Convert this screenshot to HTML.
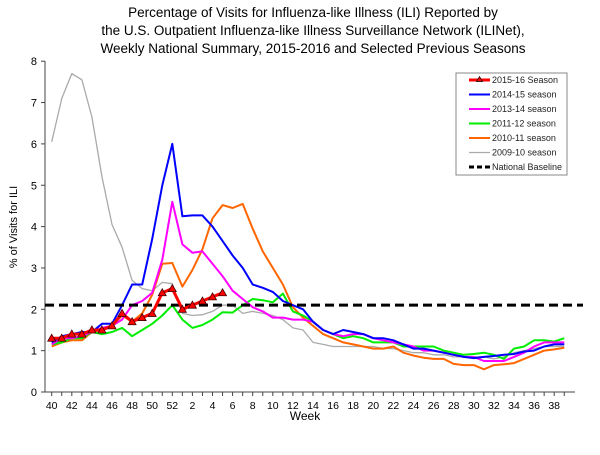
<!DOCTYPE html>
<html><head><meta charset="utf-8"><style>
body{margin:0;background:#fff;width:600px;height:450px;overflow:hidden}
svg{font-family:"Liberation Sans",Arial,sans-serif}
</style></head><body>
<svg id="s" width="600" height="450" xmlns="http://www.w3.org/2000/svg">
<text x="313" y="17" text-anchor="middle" font-size="13.5">Percentage of Visits for Influenza-like Illness (ILI) Reported by</text>
<text x="313" y="35" text-anchor="middle" font-size="13.5">the U.S. Outpatient Influenza-like Illness Surveillance Network (ILINet),</text>
<text x="313" y="53" text-anchor="middle" font-size="13.5">Weekly National Summary, 2015-2016 and Selected Previous Seasons</text>
<text transform="translate(17,227) rotate(-90)" text-anchor="middle" font-size="11">% of Visits for ILI</text>
<text x="305" y="420" text-anchor="middle" font-size="12">Week</text>
<g id="g"></g>
<rect x="456" y="73" width="111" height="102" fill="#fff" stroke="#888" stroke-width="1"/>
<g font-size="9" fill="#222">
<line x1="469" y1="80" x2="490" y2="80" stroke="#f00" stroke-width="3"/><polygon points="479.5,76.5 476.5,81.5 482.5,81.5" fill="#f00" stroke="#000" stroke-width="0.7"/><text x="492" y="83">2015-16 Season</text>
<line x1="469" y1="94.5" x2="490" y2="94.5" stroke="#00f" stroke-width="2"/><text x="492" y="97.5">2014-15 season</text>
<line x1="469" y1="109" x2="490" y2="109" stroke="#f0f" stroke-width="2"/><text x="492" y="112">2013-14 season</text>
<line x1="469" y1="123.5" x2="490" y2="123.5" stroke="#0e0" stroke-width="2"/><text x="492" y="126.5">2011-12 season</text>
<line x1="469" y1="138" x2="490" y2="138" stroke="#f60" stroke-width="2"/><text x="492" y="141">2010-11 season</text>
<line x1="469" y1="152.5" x2="490" y2="152.5" stroke="#aaa" stroke-width="1.3"/><text x="492" y="155.5">2009-10 season</text>
<line x1="469" y1="167" x2="490" y2="167" stroke="#000" stroke-width="3" stroke-dasharray="5,3"/><text x="492" y="170">National Baseline</text>
</g>
</svg>
<script>
var X0=51.7,DX=10.05,Y0=392,U=41.35;
function px(i){return X0+i*DX}function py(v){return Y0-v*U}
var h='';
h+='<line x1="45" y1="61" x2="45" y2="392" stroke="#444"/><line x1="45" y1="392" x2="575" y2="392" stroke="#444"/>';
for(var v=0;v<=8;v++){h+='<line x1="41" y1="'+py(v)+'" x2="45" y2="'+py(v)+'" stroke="#444"/><text x="37" y="'+(py(v)+4)+'" text-anchor="end" font-size="11">'+v+'</text>';}
for(var i=0;i<52;i++){var w=i<13?i+40:i-12;h+='<line x1="'+px(i)+'" y1="392" x2="'+px(i)+'" y2="396" stroke="#444"/>';if(w%2==0)h+='<text x="'+px(i)+'" y="409" text-anchor="middle" font-size="10.5">'+w+'</text>';}
var S=[
['#aaa',1.3,[6.05,7.1,7.7,7.55,6.65,5.2,4.05,3.5,2.7,2.5,2.45,2.65,2.62,1.9,1.85,1.87,1.95,2.1,2.1,1.9,1.95,1.9,1.85,1.75,1.55,1.5,1.2,1.15,1.1,1.1,1.1,1.1,1.1,1.05,1.05,1.0,0.95,0.95,0.9,0.9,0.85,0.85,0.85,0.85,0.8,0.85,0.95,1.0,1.05,1.1,1.1,1.1]],
['#f60',2,[1.1,1.2,1.25,1.25,1.45,1.5,1.6,1.85,1.7,1.9,2.35,3.1,3.12,2.55,2.95,3.45,4.2,4.52,4.45,4.55,3.95,3.4,3.0,2.6,2.05,1.8,1.6,1.4,1.3,1.2,1.15,1.1,1.05,1.05,1.1,0.95,0.88,0.83,0.8,0.8,0.68,0.65,0.65,0.55,0.65,0.67,0.7,0.8,0.9,1.0,1.03,1.07]],
['#0e0',2,[1.15,1.2,1.3,1.3,1.45,1.4,1.45,1.55,1.35,1.5,1.65,1.85,2.1,1.75,1.55,1.62,1.75,1.93,1.92,2.1,2.25,2.22,2.17,2.38,1.95,1.85,1.7,1.5,1.4,1.3,1.35,1.3,1.2,1.2,1.2,1.1,1.1,1.1,1.1,1.0,0.95,0.9,0.92,0.95,0.9,0.8,1.05,1.1,1.25,1.25,1.22,1.3]],
['#f0f',2,[1.15,1.3,1.3,1.35,1.45,1.55,1.6,1.75,2.1,2.2,2.4,3.2,4.6,3.57,3.37,3.4,3.1,2.8,2.45,2.25,2.05,1.95,1.8,1.8,1.75,1.75,1.7,1.5,1.4,1.35,1.4,1.4,1.3,1.25,1.2,1.15,1.1,1.0,1.0,0.95,0.9,0.85,0.85,0.75,0.75,0.75,0.85,0.95,1.1,1.2,1.2,1.2]],
['#00f',2,[1.2,1.35,1.4,1.45,1.45,1.65,1.65,2.1,2.6,2.6,3.7,5.0,6.0,4.25,4.27,4.27,4.0,3.65,3.3,3.0,2.6,2.52,2.42,2.2,2.1,2.0,1.7,1.5,1.4,1.5,1.45,1.4,1.3,1.3,1.25,1.15,1.05,1.05,1.0,0.95,0.9,0.85,0.82,0.85,0.87,0.9,0.92,0.98,1.0,1.1,1.15,1.15]]];
S.forEach(function(s){var p=s[2].map(function(v,i){return px(i).toFixed(1)+','+py(v).toFixed(1)}).join(' ');h+='<polyline points="'+p+'" fill="none" stroke="'+s[0]+'" stroke-width="'+s[1]+'" stroke-linejoin="round"/>';});
h+='<line x1="45" y1="'+py(2.1)+'" x2="583" y2="'+py(2.1)+'" stroke="#000" stroke-width="3" stroke-dasharray="9,5"/>';
var r=[1.3,1.3,1.4,1.4,1.5,1.5,1.6,1.9,1.7,1.8,1.9,2.4,2.5,2.0,2.1,2.2,2.3,2.4];
h+='<polyline points="'+r.map(function(v,i){return px(i).toFixed(1)+','+py(v).toFixed(1)}).join(' ')+'" fill="none" stroke="#f00" stroke-width="3"/>';
r.forEach(function(v,i){var x=px(i),y=py(v);h+='<polygon points="'+x+','+(y-4)+' '+(x-4)+','+(y+3)+' '+(x+4)+','+(y+3)+'" fill="#f00" stroke="#400" stroke-width="0.8"/>';});
document.getElementById('g').innerHTML=h;
</script>
</body></html>
